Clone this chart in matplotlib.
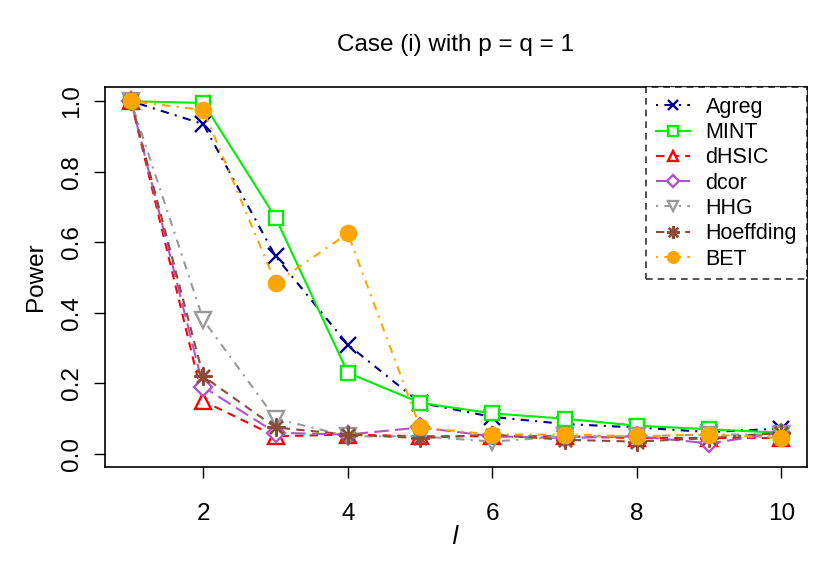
import matplotlib
matplotlib.use("Agg")
import matplotlib.pyplot as plt

plt.rcParams['font.family'] = ['Liberation Sans', 'DejaVu Sans']

# sample sizes / l values
l_vals = [1, 2, 3, 4, 5, 6, 7, 8, 9, 10]

agreg = [1.0, 0.935, 0.56, 0.31, 0.145, 0.105, 0.085, 0.075, 0.062, 0.072]
mint = [1.0, 0.995, 0.67, 0.23, 0.145, 0.115, 0.10, 0.08, 0.07, 0.06]
dhsic = [1.0, 0.15, 0.05, 0.055, 0.05, 0.05, 0.05, 0.045, 0.045, 0.045]
dcor = [1.0, 0.19, 0.06, 0.055, 0.075, 0.05, 0.045, 0.05, 0.03, 0.06]
hhg = [1.0, 0.38, 0.10, 0.05, 0.05, 0.035, 0.05, 0.05, 0.055, 0.055]
hoeffding = [1.0, 0.22, 0.075, 0.055, 0.045, 0.055, 0.04, 0.035, 0.045, 0.06]
bet = [1.0, 0.975, 0.485, 0.625, 0.075, 0.055, 0.055, 0.05, 0.055, 0.045]

series = [
    ("Agreg", agreg, "#00008B", (0, (1, 3, 4, 3)), "x", "none", 11),
    ("MINT", mint, "#00EE00", "-", "s", "white", 10),
    ("dHSIC", dhsic, "#FF0000", (0, (4, 3)), "^", "white", 11),
    ("dcor", dcor, "#B452CD", (0, (7, 3)), "D", "white", 9),
    ("HHG", hhg, "#999999", (0, (1, 3, 4, 3)), "v", "white", 11),
    ("Hoeffding", hoeffding, "#8B4C39", (0, (4, 3)), (8, 2, 0), "none", 13),
    ("BET", bet, "#FFA500", (0, (1, 3, 4, 3)), "o", None, 11),
]

fig = plt.figure(figsize=(8.36, 5.73), dpi=100)
ax = fig.add_axes([0.1256, 0.185, 0.8394, 0.663])

for name, vals, col, ls, mk, mfc, ms in series:
    if mfc is None:
        mfc = col
    ax.plot(l_vals, vals, color=col, linestyle=ls, linewidth=1.5,
            marker=mk, markersize=ms, markerfacecolor=mfc,
            markeredgecolor=col, markeredgewidth=1.7, label=name)

ax.set_xlim(0.64, 10.35)
ax.set_ylim(-0.037, 1.04)
ax.set_xticks([2, 4, 6, 8, 10])
ax.set_yticks([0.0, 0.2, 0.4, 0.6, 0.8, 1.0])
ax.set_yticklabels(["0.0", "0.2", "0.4", "0.6", "0.8", "1.0"], rotation=90, va="center")
ax.tick_params(direction="out", length=8, width=1, labelsize=17.5, pad=8)
ax.tick_params(axis="x", pad=18)
for sp in ax.spines.values():
    sp.set_linewidth(1.2)

ax.set_xlabel("$l$", fontsize=18, labelpad=0)
ax.set_ylabel("Power", fontsize=17.5, labelpad=10)
fig.suptitle("Case (i) with p = q = 1", fontsize=17.5, x=0.545, y=0.94)

leg = ax.legend(loc="upper right", fontsize=15.5, handlelength=1.6,
                borderaxespad=0, fancybox=False, frameon=True,
                labelspacing=0.2, handletextpad=0.7, borderpad=0.45,
                markerscale=0.7)
fr = leg.get_frame()
fr.set_edgecolor("black")
fr.set_linestyle((0, (4, 3)))
fr.set_linewidth(1.2)

fig.savefig("out.png", dpi=100)
